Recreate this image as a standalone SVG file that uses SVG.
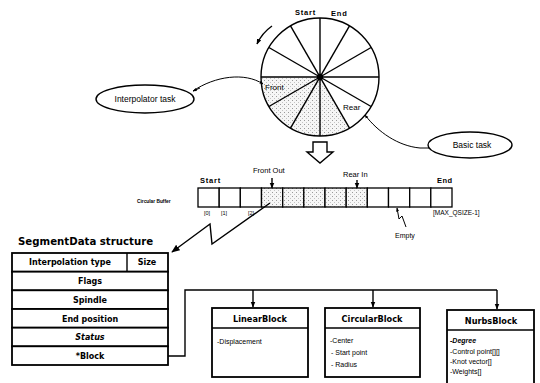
<svg xmlns="http://www.w3.org/2000/svg" width="540" height="383" viewBox="0 0 540 383">
  <style>
    .ln { fill: none; stroke: #000; stroke-width: 1.4; }
    .thin { fill: none; stroke: #000; stroke-width: 1; }
    .box { fill: #fff; stroke: #000; stroke-width: 1.8; }
    .cell { fill: #fff; stroke: #000; stroke-width: 1.3; }
    .shade { fill: url(#dots); stroke: #000; stroke-width: 1.3; }
    .t { font-family: "Liberation Sans", Arial, sans-serif; fill: #000; }
    .b { font-family: "Liberation Sans", Arial, sans-serif; font-weight: bold; fill: #000; }
    .w { font-family: "DejaVu Sans", Verdana, sans-serif; font-weight: bold; fill: #000; }
    .row { font-size: 8px; text-anchor: middle; }
  </style>
  <defs>
    <pattern id="dots" width="4" height="4" patternUnits="userSpaceOnUse">
      <rect width="4" height="4" fill="#f6f6f6"/>
      <rect x="0" y="0" width="1" height="1" fill="#9a9a9a"/>
      <rect x="2" y="2" width="1" height="1" fill="#c4c4c4"/>
    </pattern>
    <marker id="ah" viewBox="0 0 10 10" refX="9" refY="5" markerWidth="6" markerHeight="6" orient="auto">
      <path d="M0,1 L10,5 L0,9 Z" fill="#000"/>
    </marker>
    <marker id="ahs" viewBox="0 0 10 10" refX="9" refY="5" markerWidth="4" markerHeight="4" orient="auto">
      <path d="M0,1 L10,5 L0,9 Z" fill="#000"/>
    </marker>
  </defs>

  <!-- circular queue wheel -->
  <g id="wheel">
    <circle cx="320" cy="77" r="59" fill="#fff"/>
    <path d="M320,77 L261,77 A59,59 0 0,0 349.5,128.1 Z" fill="url(#dots)"/>
    <circle cx="320" cy="77" r="59" class="ln" stroke-width="1.8"/>
    <g class="ln" stroke-width="1.2">
      <line x1="261" y1="77" x2="379" y2="77"/>
      <line x1="268.9" y1="106.5" x2="371.1" y2="47.5"/>
      <line x1="290.5" y1="128.1" x2="349.5" y2="25.9"/>
      <line x1="320" y1="18" x2="320" y2="136"/>
      <line x1="290.5" y1="25.9" x2="349.5" y2="128.1"/>
      <line x1="268.9" y1="47.5" x2="371.1" y2="106.5"/>
    </g>
    <circle cx="320" cy="77" r="3.2" fill="#000"/>
    <text class="b" x="295" y="15" font-size="7.5" letter-spacing="0.8">Start</text>
    <text class="b" x="331" y="16" font-size="7.5" letter-spacing="0.8">End</text>
    <text class="t" x="265" y="90" font-size="8">Front</text>
    <text class="t" x="343" y="110" font-size="8">Rear</text>
    <path class="ln" d="M272,26 Q262,33 257,44" marker-end="url(#ahs)"/>
  </g>

  <g id="interpolator-task">
    <ellipse cx="145" cy="99" rx="49" ry="14" class="ln" fill="#fff"/>
    <text class="t" x="145" y="102" font-size="8.5" text-anchor="middle">Interpolator  task</text>
  </g>

  <g id="basic-task">
    <ellipse cx="470" cy="145" rx="42" ry="13" class="ln" fill="#fff"/>
    <text class="t" x="472" y="148" font-size="8.5" text-anchor="middle">Basic task</text>
  </g>

  <!-- hollow arrow from wheel to buffer -->
  <polygon points="313,142 327,142 327,152 333,152 320,163 307,152 313,152" fill="#fff" stroke="#000" stroke-width="1.4"/>

  <!-- linear circular buffer -->
  <g id="buffer">
    <text class="b" x="137" y="203" font-size="4.8">Circular Buffer</text>
    <text class="b" x="200" y="183" font-size="7.5" letter-spacing="0.8">Start</text>
    <text class="b" x="437" y="183" font-size="7.5" letter-spacing="0.5">End</text>
    <rect class="cell" x="198" y="188" width="21.2" height="19"/>
    <rect class="cell" x="219.2" y="188" width="21.2" height="19"/>
    <rect class="cell" x="240.3" y="188" width="21.2" height="19"/>
    <rect class="shade" x="261.5" y="188" width="21.2" height="19"/>
    <rect class="shade" x="282.7" y="188" width="21.2" height="19"/>
    <rect class="shade" x="303.8" y="188" width="21.2" height="19"/>
    <rect class="shade" x="325" y="188" width="21.2" height="19"/>
    <rect class="shade" x="346.2" y="188" width="21.2" height="19"/>
    <rect class="cell" x="367.3" y="188" width="21.2" height="19"/>
    <rect class="cell" x="388.5" y="188" width="21.2" height="19"/>
    <rect class="cell" x="409.7" y="188" width="21.2" height="19"/>
    <rect class="cell" x="430.8" y="188" width="21.2" height="19"/>
    <text class="t" x="204" y="215" font-size="5.5">[0]</text>
    <text class="t" x="221" y="215" font-size="5.5">[1]</text>
    <text class="t" x="248" y="215" font-size="5.5">[2]</text>
    <text class="t" x="433" y="215" font-size="6.5">[MAX_QSIZE-1]</text>
    <text class="t" x="253" y="173" font-size="7.5">Front  Out</text>
    <text class="t" x="343" y="177" font-size="7.5">Rear   In</text>
    <text class="t" x="395" y="238" font-size="7">Empty</text>
  </g>

  <!-- SegmentData structure -->
  <g id="segment-data">
    <text class="w" x="18" y="245" font-size="10.2">SegmentData structure</text>
    <rect class="box" x="12" y="253" width="156" height="18.7"/>
    <line x1="127" y1="253" x2="127" y2="271.7" stroke="#000" stroke-width="1.4"/>
    <rect class="box" x="12" y="271.7" width="156" height="18.7"/>
    <rect class="box" x="12" y="290.3" width="156" height="18.7"/>
    <rect class="box" x="12" y="309" width="156" height="18.7"/>
    <rect class="box" x="12" y="327.7" width="156" height="18.7"/>
    <rect class="box" x="12" y="346.3" width="156" height="18.7"/>
    <text class="w row" x="70" y="265">Interpolation type</text>
    <text class="w row" x="147" y="265">Size</text>
    <text class="w row" x="90" y="284">Flags</text>
    <text class="w row" x="90" y="303">Spindle</text>
    <text class="w row" x="90" y="321.5">End position</text>
    <text class="w row" x="90" y="340" font-style="italic">Status</text>
    <text class="w row" x="90" y="359">*Block</text>
  </g>

  <g id="linear-block">
    <rect class="box" x="212" y="308" width="96" height="69"/>
    <line x1="212" y1="328" x2="308" y2="328" stroke="#000" stroke-width="1.4"/>
    <text class="w" x="260" y="322" font-size="8.2" text-anchor="middle">LinearBlock</text>
    <text class="t" x="217" y="344" font-size="7">-Displacement</text>
  </g>

  <g id="circular-block">
    <rect class="box" x="325" y="308" width="95" height="69"/>
    <line x1="325" y1="328" x2="420" y2="328" stroke="#000" stroke-width="1.4"/>
    <text class="w" x="372" y="322" font-size="8.2" text-anchor="middle">CircularBlock</text>
    <text class="t" x="330" y="343" font-size="7">-Center</text>
    <text class="t" x="331" y="355" font-size="7">- Start point</text>
    <text class="t" x="331" y="367" font-size="7">- Radius</text>
  </g>

  <g id="nurbs-block">
    <rect class="box" x="447" y="310" width="87" height="80"/>
    <line x1="447" y1="330" x2="534" y2="330" stroke="#000" stroke-width="1.4"/>
    <text class="w" x="491" y="324" font-size="8.2" text-anchor="middle">NurbsBlock</text>
    <text class="b" x="450" y="343" font-size="7" font-style="italic">-Degree</text>
    <text class="t" x="450" y="354" font-size="7">-Control point[][]</text>
    <text class="t" x="450" y="364" font-size="7">-Knot vector[]</text>
    <text class="t" x="450" y="374" font-size="7">-Weights[]</text>
  </g>

  <!-- connectors -->
  <g id="connectors">
    <path class="thin" d="M193,91 C215,76 245,72 263,84" marker-end="url(#ahs)"/>
    <path class="thin" d="M200,88 L193,91" marker-end="url(#ahs)"/>
    <path class="thin" d="M429,148 L420,148 C398,146 378,132 365,115" marker-end="url(#ahs)"/>
    <line class="ln" x1="272" y1="178" x2="272" y2="188" marker-end="url(#ahs)"/>
    <line class="ln" x1="357" y1="180" x2="357" y2="188" marker-end="url(#ahs)"/>
    <path class="thin" d="M406,227 L402,216 L399,219 L397,208" marker-end="url(#ahs)"/>
    <path class="ln" d="M270,203 L212,244 L210,224 L172,252" marker-end="url(#ah)"/>
    <path class="ln" d="M168,356 L185,356 L185,290 L497,290"/>
    <line class="ln" x1="253" y1="290" x2="253" y2="307" marker-end="url(#ahs)"/>
    <line class="ln" x1="373" y1="290" x2="373" y2="307" marker-end="url(#ahs)"/>
    <line class="ln" x1="497" y1="290" x2="497" y2="309" marker-end="url(#ahs)"/>
  </g>
</svg>
